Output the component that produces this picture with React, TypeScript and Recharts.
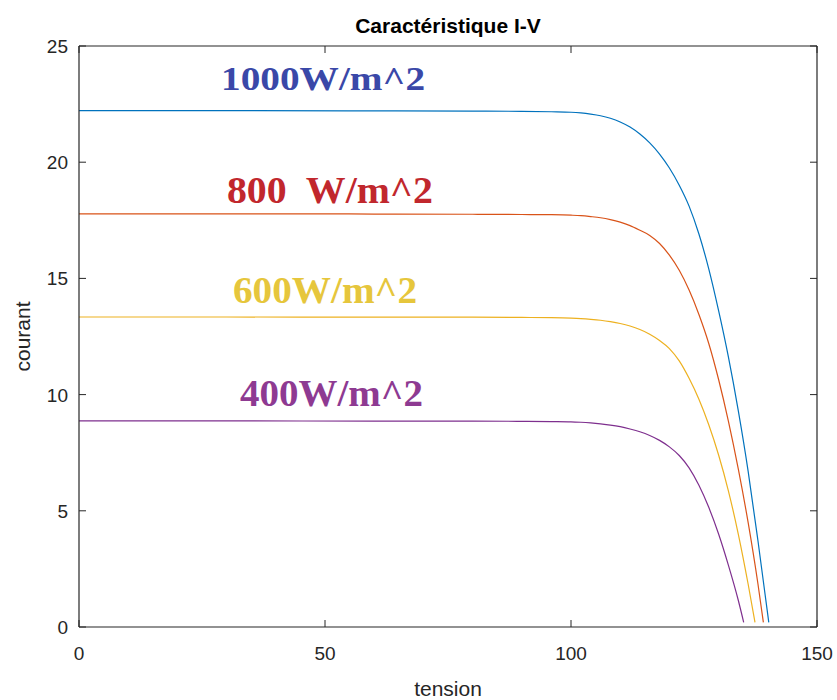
import React from 'react';
import { LineChart, Line, XAxis, YAxis, ReferenceDot, ReferenceLine, Label } from 'recharts';

// I-V curves (tension in V, courant in A)
const tension1000 = [0, 30, 60, 80, 90, 96, 100, 102, 104, 106, 108, 110, 112, 114, 116, 118, 120, 122, 124, 126, 128, 130, 132, 134, 136, 138, 140.2];
const courant1000 = [22.22, 22.22, 22.21, 22.2, 22.19, 22.17, 22.15, 22.12, 22.07, 22.0, 21.89, 21.73, 21.51, 21.21, 20.83, 20.35, 19.75, 19.01, 18.11, 16.91, 15.41, 13.61, 11.61, 9.31, 6.71, 3.71, 0.2];

const tension800 = [0, 30, 60, 80, 90, 96, 100, 102, 104, 106, 108, 110, 112, 114, 116, 118, 120, 122, 124, 126, 128, 130, 132, 134, 136, 138, 139.1];
const courant800 = [17.78, 17.78, 17.77, 17.76, 17.75, 17.74, 17.72, 17.7, 17.66, 17.61, 17.53, 17.42, 17.27, 17.07, 16.85, 16.5, 16.0, 15.35, 14.5, 13.45, 12.2, 10.65, 8.85, 6.8, 4.5, 1.85, 0.2];

const tension600 = [0, 30, 60, 80, 90, 96, 100, 102, 104, 106, 108, 110, 112, 114, 116, 118, 120, 122, 124, 126, 128, 130, 132, 134, 136, 137.4];
const courant600 = [13.34, 13.34, 13.33, 13.33, 13.32, 13.31, 13.29, 13.27, 13.24, 13.2, 13.14, 13.06, 12.95, 12.8, 12.6, 12.33, 11.98, 11.45, 10.7, 9.8, 8.7, 7.4, 5.85, 4.0, 1.85, 0.2];

const tension400 = [0, 30, 60, 80, 90, 96, 100, 102, 104, 106, 108, 110, 112, 114, 116, 118, 120, 122, 124, 126, 128, 130, 132, 134, 135.1];
const courant400 = [8.87, 8.87, 8.86, 8.86, 8.85, 8.84, 8.83, 8.81, 8.78, 8.74, 8.69, 8.62, 8.52, 8.4, 8.24, 8.03, 7.75, 7.38, 6.85, 6.1, 5.15, 4.0, 2.65, 1.15, 0.2];

const xTicks = [0, 50, 100, 150];
const yTicks = [0, 5, 10, 15, 20, 25];

const toPoints = (v: number[], i: number[]) => v.map((t, k) => ({ tension: t, courant: i[k] }));

const series = [
  { key: '1000', data: toPoints(tension1000, courant1000), color: '#0072BD' },
  { key: '800', data: toPoints(tension800, courant800), color: '#D95319' },
  { key: '600', data: toPoints(tension600, courant600), color: '#EDB120' },
  { key: '400', data: toPoints(tension400, courant400), color: '#7E2F8E' },
];

// text annotations placed in data space next to each curve
const notes = [
  { text: '1000W/m^2', at: [49.6, 23.11], color: '#3A48A8', size: 34, width: 204 },
  { text: '800  W/m^2', at: [51.0, 18.24], color: '#C1272D', size: 38, width: 206 },
  { text: '600W/m^2', at: [50.0, 13.94], color: '#E6C63C', size: 38, width: 184 },
  { text: '400W/m^2', at: [51.3, 9.51], color: '#8E3A92', size: 37, width: 183 },
];

const FONT = 'Liberation Sans, Arial, Helvetica, sans-serif';
const AXIS = '#262626';
const TICK_LEN = 7;
// plot box edges (px), used for the mirrored ticks on the top and right sides
const PLOT_TOP = 46;
const PLOT_RIGHT = 817;

const BottomTick = (props: any) => {
  const { x, y, payload } = props;
  return (
    <g>
      <line x1={x} y1={y} x2={x} y2={y - TICK_LEN} stroke={AXIS} strokeWidth={1} />
      <line x1={x} y1={PLOT_TOP} x2={x} y2={PLOT_TOP + TICK_LEN} stroke={AXIS} strokeWidth={1} />
      <text x={x} y={y + 33} textAnchor="middle" fontSize={19} fill={AXIS} fontFamily={FONT}>
        {payload.value}
      </text>
    </g>
  );
};

const LeftTick = (props: any) => {
  const { x, y, payload } = props;
  return (
    <g>
      <line x1={x} y1={y} x2={x + TICK_LEN} y2={y} stroke={AXIS} strokeWidth={1} />
      <line x1={PLOT_RIGHT} y1={y} x2={PLOT_RIGHT - TICK_LEN} y2={y} stroke={AXIS} strokeWidth={1} />
      <text x={x - 11} y={y + 7} textAnchor="end" fontSize={19} fill={AXIS} fontFamily={FONT}>
        {payload.value}
      </text>
    </g>
  );
};

const App: React.FC = () => {
  return (
    <div style={{ position: 'absolute', left: 0, top: 0, width: 837, height: 700, background: '#fff' }}>
      <LineChart width={837} height={700} margin={{ top: PLOT_TOP, right: 837 - PLOT_RIGHT, left: 0, bottom: 0 }}>
        <XAxis
          dataKey="tension"
          type="number"
          domain={[0, 150]}
          ticks={xTicks}
          interval={0}
          allowDataOverflow
          height={73}
          axisLine={{ stroke: AXIS, strokeWidth: 1.2 }}
          tickLine={false}
          tickSize={0}
          tickMargin={0}
          tick={<BottomTick />}
        >
          <Label
            content={(p: any) => {
              const vb = p.viewBox || {};
              return (
                <text x={vb.x + vb.width / 2} y={696} textAnchor="middle" fontSize={21} fill={AXIS} fontFamily={FONT}>
                  tension
                </text>
              );
            }}
          />
        </XAxis>
        <YAxis
          type="number"
          domain={[0, 25]}
          ticks={yTicks}
          interval={0}
          allowDataOverflow
          width={79}
          axisLine={{ stroke: AXIS, strokeWidth: 1.2 }}
          tickLine={false}
          tickSize={0}
          tickMargin={0}
          tick={<LeftTick />}
        >
          <Label
            content={(p: any) => {
              const vb = p.viewBox || {};
              const cy = vb.y + vb.height / 2;
              return (
                <text
                  x={30}
                  y={cy}
                  transform={`rotate(-90, 30, ${cy})`}
                  textAnchor="middle"
                  fontSize={21}
                  fill={AXIS}
                  fontFamily={FONT}
                >
                  courant
                </text>
              );
            }}
          />
        </YAxis>
        <ReferenceLine
          y={25}
          stroke={AXIS}
          strokeWidth={1.2}
          label={(p: any) => {
            const vb = p.viewBox || {};
            return (
              <text x={vb.x + vb.width / 2} y={33} textAnchor="middle" fontSize={21} fontWeight="bold" fill="#000" fontFamily={FONT}>
                Caractéristique I-V
              </text>
            );
          }}
        />
        <ReferenceLine x={150} stroke={AXIS} strokeWidth={1.2} />
        {series.map((s) => (
          <Line
            key={s.key}
            data={s.data}
            dataKey="courant"
            type="monotone"
            stroke={s.color}
            strokeWidth={1.2}
            dot={false}
            activeDot={false}
            isAnimationActive={false}
          />
        ))}
        {notes.map((n) => (
          <ReferenceDot
            key={n.text}
            x={n.at[0]}
            y={n.at[1]}
            r={1}
            fill="none"
            stroke="none"
            label={(p: any) => {
              const vb = p.viewBox || {};
              const cx = vb.x + (vb.width || 0) / 2;
              const cy = vb.y + (vb.height || 0) / 2;
              return (
                <text
                  x={cx}
                  y={cy}
                  textAnchor="middle"
                  fontSize={n.size}
                  fontWeight="bold"
                  fill={n.color}
                  fontFamily="Liberation Serif, Times New Roman, serif"
                  textLength={n.width}
                  lengthAdjust="spacingAndGlyphs"
                  style={{ whiteSpace: 'pre' }}
                >
                  {n.text}
                </text>
              );
            }}
          />
        ))}
      </LineChart>
    </div>
  );
};

export default App;
